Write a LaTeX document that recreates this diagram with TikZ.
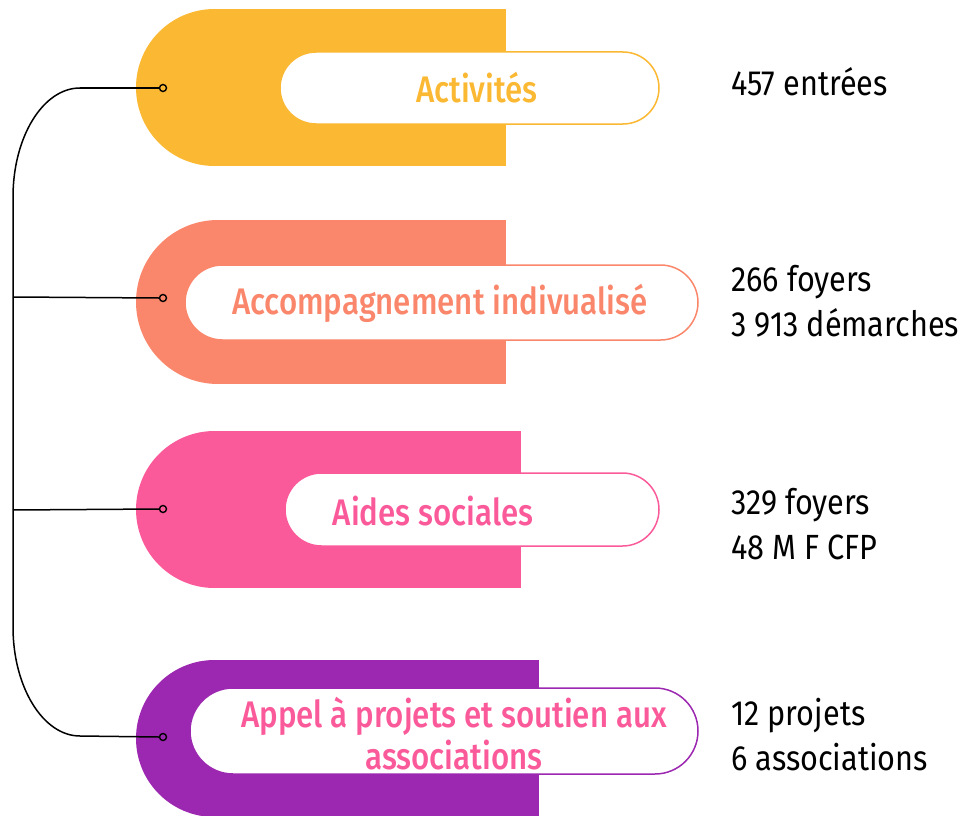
\documentclass[tikz,border=0pt]{standalone}
\usepackage{fontspec}
\setmainfont{Fira Sans}[FakeStretch=0.875]
\newfontfamily\labelfont{Fira Sans Medium}[FakeStretch=0.845]
\usetikzlibrary{arrows.meta, calc, positioning, shapes.misc}

\definecolor{actyellow}{HTML}{FBB833}
\definecolor{accsalmon}{HTML}{FA876B}
\definecolor{aidpink}{HTML}{FB5A9A}
\definecolor{apppurple}{HTML}{9C27B0}

\begin{document}
\begin{tikzpicture}[x=1pt, y=-1pt, >=Latex,
  pill/.style={draw, line width=1.5pt, fill=white, rounded rectangle, inner sep=0pt},
  dot/.style={circle, draw=black, line width=1.4pt, inner sep=0pt, minimum size=7pt},
  wire/.style={black, line width=1.5pt},
  stat/.style={anchor=west, align=left, inner sep=0pt, font=\fontsize{35}{45}\selectfont},
  lbl/.style={align=center, inner sep=0pt, font=\labelfont\fontsize{37}{42}\selectfont}]

  \useasboundingbox (0,0) rectangle (964,816);

  % coloured halves
  \foreach \n/\top/\bot/\xr/\col in {act/9/166/506/actyellow, acc/220/384/506/accsalmon,
      aid/431/588/521/aidpink, app/660/817/539/apppurple} {
    \fill[\col] ({136+(\bot-\top)/2}, \top) rectangle (\xr, \bot);
    \fill[\col] ({136+(\bot-\top)/2}, {(\top+\bot)/2}) circle ({(\bot-\top)/2});
  }

  % white pills
  \node[pill, draw=actyellow, minimum width=379pt, minimum height=72pt] (act) at (469.5, 88) {};
  \node[pill, draw=accsalmon, minimum width=513pt, minimum height=75pt] (acc) at (441.5, 302.5) {};
  \node[pill, draw=aidpink, minimum width=374pt, minimum height=73pt] (aid) at (472, 509.5) {};
  \node[pill, draw=apppurple, minimum width=508pt, minimum height=86pt] (app) at (444, 731) {};

  \node[lbl, text=actyellow] (act-text) at (477, 88) {Activités};
  \node[lbl, text=accsalmon] (acc-text) at (440, 303) {Accompagnement indivualisé};
  \node[lbl, text=aidpink] (aid-text) at (433, 511) {Aides sociales};
  \node[lbl, text=aidpink] (app-text) at (454, 734) {Appel à projets et soutien aux\\associations};

  % dots and wires
  \foreach \n/\y in {act/88, acc/298, aid/509, app/737}
    \node[dot] (dot-\n) at (163, \y) {};

  \coordinate (bend-top) at (80, 88);
  \coordinate (spine-top) at (13, 197);
  \coordinate (spine-acc) at (13, 297);
  \coordinate (spine-aid) at (13, 510);
  \coordinate (spine-bot) at (13, 627);
  \coordinate (bend-bot) at (80, 736);

  \draw[wire] (dot-act.west) -- (bend-top) .. controls (43, 88) and (13, 137) .. (spine-top)
    -- (spine-bot) .. controls (13, 687) and (43, 736) .. (bend-bot) -- (dot-app.west);
  \draw[wire] (spine-acc) -- (dot-acc.west);
  \draw[wire] (spine-aid) -- (dot-aid.west);

  % figures
  \node[stat] (stat-act) at (731, 82) {457 entrées};
  \node[stat] (stat-acc) at (731, 301) {266 foyers\\3 913 démarches};
  \node[stat] (stat-aid) at (731, 524) {329 foyers\\48 M F CFP};
  \node[stat] (stat-app) at (731, 735) {12 projets\\6 associations};

\end{tikzpicture}
\end{document}
